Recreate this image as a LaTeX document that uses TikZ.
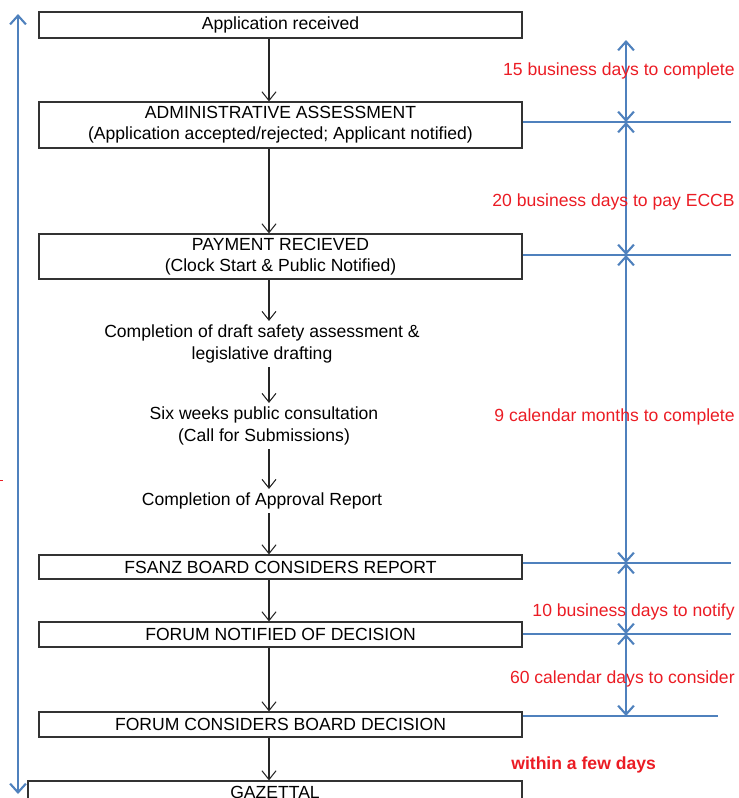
\documentclass[tikz,border=0pt]{standalone}
\usepackage{fontspec}
\setmainfont{Liberation Sans}
\usetikzlibrary{arrows.meta}
\definecolor{lineblue}{RGB}{79,129,189}
\definecolor{noteRed}{RGB}{235,28,36}
\tikzset{
  stagebox/.style={draw=black!80, line width=0.7pt, minimum width=9.66cm, minimum height=#1, align=center, inner sep=1pt, font=\fontsize{10}{12}\selectfont},
  stagebox/.default=0.52cm,
  stagetext/.style={align=center, inner sep=2pt, font=\fontsize{10}{12.5}\selectfont},
  flow/.style={-{Straight Barb[length=5pt, width=8pt]}, black!85, line width=0.6pt},
  timeline/.style={lineblue, line width=1.2pt},
  span/.style={timeline, {Straight Barb[length=5pt, width=9pt]}-{Straight Barb[length=5pt, width=9pt]}},
  note/.style={noteRed, anchor=east, inner sep=0pt, font=\fontsize{10}{12}\selectfont}
}
\begin{document}
\begin{tikzpicture}[x=0.02cm, y=-0.02cm]
\clip (0,0) rectangle (739,798);
\coordinate (spine) at (269,0);
% stages
\node[stagebox] (app) at (280.5,25) {Application received};
\node[stagebox=0.92cm] (adm) at (280.5,125) {ADMINISTRATIVE ASSESSMENT\\(Application accepted/rejected; Applicant notified)};
\node[stagebox=0.9cm] (pay) at (280.5,256.5) {PAYMENT RECIEVED\\(Clock Start \& Public Notified)};
\node[stagetext] (draft) at (262,344) {Completion of draft safety assessment \&\\legislative drafting};
\node[stagetext] (consult) at (264,426) {Six weeks public consultation\\(Call for Submissions)};
\node[stagetext] (report) at (262,501) {Completion of Approval Report};
\node[stagebox=0.48cm] (board) at (280.5,567) {FSANZ BOARD CONSIDERS REPORT};
\node[stagebox=0.5cm] (notify) at (280.5,634.5) {FORUM NOTIFIED OF DECISION};
\node[stagebox=0.5cm] (forum) at (280.5,724.5) {FORUM CONSIDERS BOARD DECISION};
\node[stagebox=0.44cm, minimum width=9.88cm] (gaz) at (275,792) {GAZETTAL};
% flow arrows
\draw[flow] (app.south -| spine) -- (adm.north -| spine);
\draw[flow] (adm.south -| spine) -- (pay.north -| spine);
\draw[flow] (pay.south -| spine) -- (draft.north -| spine);
\draw[flow] (draft.south -| spine) -- (consult.north -| spine);
\draw[flow] (consult.south -| spine) -- (report.north -| spine);
\draw[flow] (report.south -| spine) -- (board.north -| spine);
\draw[flow] (board.south -| spine) -- (notify.north -| spine);
\draw[flow] (notify.south -| spine) -- (forum.north -| spine);
\draw[flow] (forum.south -| spine) -- (gaz.north -| spine);
% overall time line
\coordinate (L0) at (18,14);
\coordinate (L1) at (18,794);
\draw[span] (L0) -- (L1);
\draw[noteRed, line width=1pt] (0,480.5) -- (3,480.5);
% step time lines
\coordinate (T0) at (626,40);
\coordinate (T1) at (626,122);
\coordinate (T2) at (626,255);
\coordinate (T3) at (626,563);
\coordinate (T4) at (626,634);
\coordinate (T5) at (626,716);
\draw[timeline] (adm.east |- T1) -- (731,122);
\draw[timeline] (pay.east |- T2) -- (731,255);
\draw[timeline] (board.east |- T3) -- (731,563);
\draw[timeline] (notify.east |- T4) -- (731,634);
\draw[timeline] (forum.east |- T5) -- (718,716);
\draw[span] (T0) -- (T1);
\draw[span] (T1) -- (T2);
\draw[span] (T2) -- (T3);
\draw[span] (T3) -- (T4);
\draw[span] (T4) -- (T5);
% durations
\node[note] (n1) at (735,71) {15 business days to complete};
\node[note] (n2) at (735,202) {20 business days to pay ECCB};
\node[note] (n3) at (735,417) {9 calendar months to complete};
\node[note] (n4) at (735,612) {10 business days to notify};
\node[note] (n5) at (735,679) {60 calendar days to consider};
\node[note, anchor=west, font=\fontsize{10}{12}\selectfont\bfseries] (n6) at (511,765) {within a few days};
\end{tikzpicture}
\end{document}
